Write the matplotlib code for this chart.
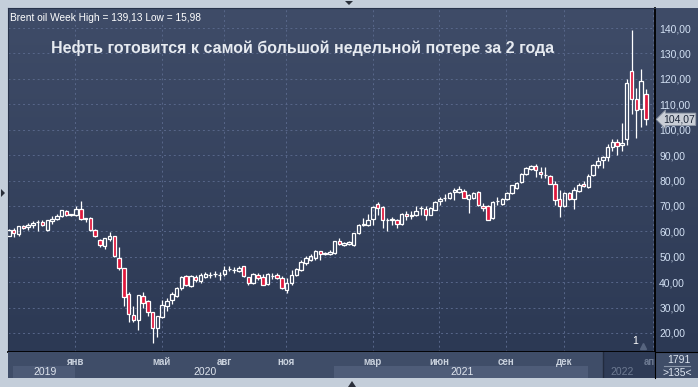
import numpy as np
import matplotlib.pyplot as plt
from matplotlib.colors import LinearSegmentedColormap
from matplotlib.patches import Rectangle, Polygon
import matplotlib.transforms as mtransforms

plt.rcParams['font.family'] = ['Liberation Sans', 'DejaVu Sans']

# weekly Brent candles, Oct 2019 - Mar 2022
opens = [58.3, 60.4, 59.1, 62.0, 61.6, 62.5, 63.5, 63.7, 60.4, 64.0,
         64.9, 65.9, 67.9, 66.6, 66.5, 68.8, 65.0, 65.3, 60.5, 56.6,
         54.2, 56.8, 58.2, 49.5, 45.5, 35.4, 27.0, 25.1, 34.6, 32.6,
         28.2, 21.8, 26.4, 30.8, 32.8, 34.7, 37.6, 42.5, 38.6, 41.9,
         40.3, 42.1, 42.8, 43.1, 42.8, 43.3, 45.1, 44.9, 44.5, 46.2,
         42.0, 39.6, 42.8, 41.9, 39.2, 42.4, 42.8, 41.6, 37.0, 39.6,
         42.7, 44.9, 47.5, 48.8, 49.5, 52.1, 51.3, 51.0, 51.4, 56.0,
         54.6, 55.0, 54.7, 59.3, 62.5, 62.4, 64.9, 70.8, 69.5, 64.5,
         64.6, 64.6, 62.9, 66.8, 65.9, 66.6, 69.1, 68.8, 66.6, 68.5,
         71.8, 73.0, 73.1, 75.5, 75.5, 76.0, 72.8, 73.1, 75.5, 70.1,
         70.1, 65.3, 72.0, 70.8, 72.9, 75.1, 77.1, 79.5, 82.6, 84.7,
         85.6, 83.4, 82.2, 81.7, 78.7, 72.8, 69.9, 75.1, 72.9, 75.8,
         78.7, 77.4, 82.0, 86.3, 87.9, 89.3, 93.1, 95.2, 93.9, 96.4,
         123.1, 112.2, 108.0, 114.2]
highs = [60.8, 61.2, 62.2, 62.3, 63.3, 64.0, 64.3, 64.6, 64.6, 65.9,
         66.8, 68.5, 68.3, 67.0, 69.9, 71.75, 65.3, 65.5, 60.8, 56.8,
         57.4, 59.9, 58.3, 53.8, 45.6, 36.0, 30.7, 35.0, 36.3, 32.8,
         28.4, 26.8, 33.0, 33.7, 36.0, 38.0, 42.6, 43.0, 43.0, 42.8,
         43.5, 43.9, 44.0, 44.5, 44.0, 46.2, 46.2, 45.8, 46.2, 46.5,
         42.2, 43.6, 43.6, 43.2, 43.6, 43.6, 43.5, 42.3, 41.6, 44.9,
         45.5, 48.8, 50.2, 51.2, 52.8, 52.4, 51.8, 52.5, 56.2, 57.3,
         55.9, 56.3, 59.5, 62.9, 65.2, 66.8, 69.9, 71.4, 69.9, 65.2,
         65.5, 64.7, 67.3, 68.1, 67.9, 69.9, 69.9, 69.9, 69.6, 72.0,
         73.4, 74.7, 75.6, 77.1, 78.0, 76.5, 74.6, 75.6, 76.0, 71.2,
         70.5, 71.8, 73.5, 73.0, 75.3, 78.3, 79.3, 83.0, 85.2, 86.3,
         86.6, 85.3, 85.3, 82.0, 80.0, 76.4, 75.5, 75.5, 77.3, 78.9,
         80.0, 82.5, 86.6, 89.3, 89.8, 94.2, 96.2, 96.4, 102.5, 119.8,
         139.13, 116.6, 123.8, 116.0]
lows = [58.0, 57.8, 58.0, 60.8, 60.7, 61.3, 60.0, 62.0, 60.2, 63.0,
        64.6, 65.7, 66.2, 66.0, 65.9, 64.4, 63.6, 60.0, 57.9, 53.8,
        53.0, 56.1, 50.0, 44.9, 30.7, 24.5, 24.5, 21.2, 29.9, 26.7,
        15.98, 18.5, 26.0, 28.7, 31.5, 34.0, 37.0, 38.5, 38.2, 40.0,
        39.7, 41.6, 41.6, 41.9, 40.9, 42.3, 44.2, 43.6, 44.0, 42.0,
        39.0, 39.2, 40.9, 38.7, 38.7, 41.3, 41.4, 37.4, 35.7, 39.0,
        42.3, 44.2, 46.9, 48.2, 48.8, 48.8, 50.8, 50.5, 51.2, 54.7,
        54.2, 54.7, 54.3, 59.0, 61.9, 61.9, 62.6, 66.6, 61.3, 60.0,
        62.4, 61.3, 62.5, 64.6, 65.0, 65.9, 66.6, 64.6, 66.3, 68.2,
        70.5, 72.1, 72.6, 72.5, 75.0, 73.0, 67.2, 72.6, 70.0, 67.9,
        64.4, 65.0, 70.5, 70.5, 72.5, 74.7, 76.5, 79.2, 82.2, 84.0,
        81.3, 81.0, 81.0, 78.5, 70.5, 65.5, 69.5, 72.5, 68.9, 75.5,
        77.4, 77.0, 81.7, 85.0, 85.0, 87.6, 91.6, 89.9, 91.5, 94.0,
        106.0, 96.8, 101.0, 101.7]
closes = [60.4, 59.3, 62.0, 61.2, 62.5, 63.4, 63.6, 62.6, 64.3, 65.0,
          66.2, 68.2, 66.5, 66.7, 68.8, 64.9, 65.1, 60.4, 58.0, 54.6,
          57.4, 58.3, 50.1, 45.4, 34.3, 27.4, 25.1, 34.9, 31.7, 28.2,
          21.8, 26.7, 30.9, 32.4, 35.4, 37.6, 42.0, 38.8, 42.3, 40.8,
          42.9, 43.2, 42.9, 43.2, 42.9, 44.9, 45.2, 44.8, 45.5, 42.3,
          39.6, 43.2, 41.6, 39.0, 43.3, 42.5, 41.6, 37.7, 39.6, 42.9,
          45.3, 47.9, 49.5, 50.2, 52.4, 51.1, 51.2, 51.8, 56.0, 55.0,
          55.5, 55.6, 59.3, 62.6, 62.7, 64.6, 69.5, 69.2, 64.6, 64.6,
          64.7, 62.9, 67.0, 65.9, 66.6, 68.1, 69.2, 66.6, 69.2, 71.6,
          72.7, 73.1, 75.1, 76.4, 76.7, 73.1, 74.2, 75.1, 70.3, 69.2,
          64.6, 71.6, 72.1, 72.9, 75.1, 78.1, 79.1, 82.6, 85.0, 85.6,
          84.0, 82.6, 82.1, 78.7, 72.5, 69.9, 75.1, 72.9, 76.4, 78.4,
          77.8, 81.7, 86.3, 87.6, 89.2, 93.1, 95.1, 93.5, 94.9, 118.5,
          112.2, 107.6, 119.2, 104.07]

month_labels = ['янв', 'май', 'авг', 'ноя', 'мар', 'июн', 'сен', 'дек', 'апр']
month_pos = [13.8, 31.9, 44.9, 57.8, 76.0, 89.8, 103.8, 115.9, 134.4]
year_labels = ['2019', '2020', '2021', '2022']
year_pos = [7.5, 40.9, 94.6, 128.0]
price_ticks = list(range(20, 150, 10))
last_price = 104.07

W, H = 698, 387
XLIM = (-0.2, 134.9)
YLIM = (12.5, 147.9)


def frac(x0, y0, x1, y1):
    # pixel box -> figure fraction rect
    return [x0 / W, 1 - y1 / H, (x1 - x0) / W, (y1 - y0) / H]


bg_cmap = LinearSegmentedColormap.from_list('bg', ['#2c3954', '#3f4c68'])
grad = np.linspace(0, 1, 256).reshape(-1, 1)

fig = plt.figure(figsize=(W / 100, H / 100), dpi=100)
fig.patch.set_facecolor('#c4ceda')

# right price panel background
ax_r = fig.add_axes(frac(655, 8, 698, 352))
ax_r.imshow(grad, aspect='auto', cmap=bg_cmap, origin='lower', extent=[0, 1, 0, 1])
ax_r.set_axis_off()

# main chart
ax = fig.add_axes(frac(8, 8, 655, 352))
ax.imshow(grad, aspect='auto', cmap=bg_cmap, origin='lower',
          extent=[XLIM[0], XLIM[1], YLIM[0], YLIM[1]], zorder=0)
ax.set_xlim(XLIM)
ax.set_ylim(YLIM)

x = np.arange(len(opens))
o = np.array(opens)
h = np.array(highs)
l = np.array(lows)
c = np.array(closes)
top = np.maximum(o, c)
bot = np.minimum(o, c)
up = c >= o

ax.vlines(x, top, h, color='white', lw=0.9, zorder=3)
ax.vlines(x, l, bot, color='white', lw=0.9, zorder=3)
ax.bar(x[up], (top - bot)[up], bottom=bot[up], width=0.72,
       facecolor='none', edgecolor='white', lw=0.9, zorder=4)
ax.bar(x[~up], (top - bot)[~up], bottom=bot[~up], width=0.72,
       facecolor='#e0173c', edgecolor='white', lw=0.9, zorder=4)

ax.set_xticks(month_pos)
ax.set_xticklabels([])
ax.set_yticks(price_ticks)
ax.set_yticklabels([f'{v:.2f}'.replace('.', ',') for v in price_ticks])
ax.yaxis.tick_right()
ax.tick_params(axis='y', length=0, pad=3, labelsize=7.5, labelcolor='#d3e1f4')
ax.tick_params(axis='x', length=0)
ax.grid(True, color='#58678a', lw=0.7, linestyle=(0, (2, 3)), zorder=1)
ax.set_axisbelow(True)
for s in ['top', 'left']:
    ax.spines[s].set_color('#27324a')
    ax.spines[s].set_linewidth(0.8)
for s in ['right', 'bottom']:
    ax.spines[s].set_color('black')
    ax.spines[s].set_linewidth(1.3)

# last price marker
trans = mtransforms.blended_transform_factory(ax.transAxes, ax.transData)
ax.text(1.012, last_price, f'{last_price:.2f}'.replace('.', ','), transform=trans,
        ha='left', va='center', fontsize=7.5, color='#1c2638', zorder=6,
        bbox=dict(boxstyle='larrow,pad=0.12', fc='#c9ced6', ec='#8d96a4', lw=0.6),
        clip_on=False)

ax.text(0.003, 0.985, 'Brent oil Week High = 139,13 Low = 15,98', transform=ax.transAxes,
        ha='left', va='top', fontsize=7.3, color='white', zorder=6)
ax.text(0.066, 0.885, 'Нефть готовится к самой большой недельной потере за 2 года',
        transform=ax.transAxes, ha='left', va='center', fontsize=11.5,
        fontweight='bold', color='#e6eaf0', zorder=6)
ax.text(0.97, 0.018, '1', transform=ax.transAxes, ha='center', va='bottom',
        fontsize=7.5, color='white', zorder=6)
ax.plot([0.981], [0.018], transform=ax.transAxes, marker='^', ms=4,
        color='#56647e', zorder=6, clip_on=False)

# bottom time axis
ax_b = fig.add_axes(frac(8, 352, 655, 378))
ax_b.set_xlim(XLIM)
ax_b.set_ylim(0, 1)
ax_b.set_facecolor('#3f4d68')
ax_b.add_patch(Rectangle((0.84, 0), 13.8 - 0.84, 0.46, fc='#4c5a76', ec='none'))
ax_b.add_patch(Rectangle((67.8, 0), 120.9 - 67.8, 0.46, fc='#4e5c78', ec='none'))
ax_b.add_patch(Rectangle((124.0, 0), XLIM[1] - 124.0, 1, fc='#2e3b56', ec='none'))
ax_b.axvline(124.0, color='#222b3e', lw=1)
for pos, lab in zip(month_pos, month_labels):
    col = '#6d7a92' if pos > 124 else '#c9d1dd'
    ax_b.text(pos, 0.62, lab, ha='center', va='center', fontsize=7,
              fontweight='bold', color=col, clip_on=True)
for pos, lab in zip(year_pos, year_labels):
    col = '#6d7a92' if pos > 124 else '#dfe5ee'
    ax_b.text(pos, 0.22, lab, ha='center', va='center', fontsize=7.5,
              color=col, clip_on=True)
ax_b.set_xticks([])
ax_b.set_yticks([])
for s in ax_b.spines.values():
    s.set_visible(False)

# bottom right counter box
ax_c = fig.add_axes(frac(655, 352, 698, 378))
ax_c.set_xlim(0, 1)
ax_c.set_ylim(0, 1)
ax_c.set_facecolor('#3f4d68')
ax_c.text(0.55, 0.7, '1791', ha='center', va='center', fontsize=7.5, color='#dde5f0')
ax_c.plot([0.22, 0.82], [0.45, 0.45], color='#8a96aa', lw=0.8)
ax_c.text(0.52, 0.2, '>135<', ha='center', va='center', fontsize=7.5, color='#dde5f0')
ax_c.set_xticks([])
ax_c.set_yticks([])
for s in ax_c.spines.values():
    s.set_visible(False)
ax_c.spines['top'].set_visible(True)
ax_c.spines['top'].set_color('black')
ax_c.spines['left'].set_visible(True)
ax_c.spines['left'].set_color('black')

# scroll arrows of the frame
ax_f = fig.add_axes([0, 0, 1, 1], zorder=-1)
ax_f.set_xlim(0, W)
ax_f.set_ylim(H, 0)
ax_f.set_axis_off()
ax_f.add_patch(Polygon([[345, 1], [353, 1], [349, 5]], closed=True, fc='#2a2f3a', ec='none'))
ax_f.add_patch(Polygon([[1, 189], [1, 197], [5, 193]], closed=True, fc='#2a2f3a', ec='none'))
ax_f.add_patch(Polygon([[348, 387], [356, 387], [352, 381]], closed=True, fc='#2a2f3a', ec='none'))

fig.savefig('out.png', dpi=100, facecolor=fig.get_facecolor())
